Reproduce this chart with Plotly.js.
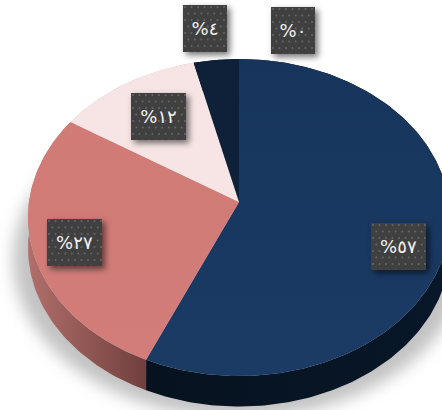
<!DOCTYPE html>
<html>
<head>
<meta charset="utf-8">
<script src="https://cdn.plot.ly/plotly-3.0.1.min.js"></script>
<style>html,body{margin:0;padding:0;background:#fff;overflow:hidden}#chart{width:442px;height:410px}</style>
</head>
<body>
<div id="chart"></div>
<script>
// Data (clockwise from 12 o'clock)
const sliceValues = [56.6, 27.4, 12.2, 3.8, 0];
const sliceLabels = ['%٥٧', '%٢٧', '%١٢', '%٤', '%٠'];

// Styles
const topFills = [['#17355c', '#1b3b65'], ['#d17a76', '#d27d79'], ['#f7e5e5', '#f7e5e5'], ['#0f2139', '#0f2139'], ['#0f2139', '#0f2139']];
const wallFills = [['#06121f', '#081729'], ['#b06e6a', '#6e3e3c'], ['#c9b5b5', '#c9b5b5'], ['#081729', '#081729'], ['#081729', '#081729']];
const labelCentres = [[398.5, 246.5], [74.5, 242], [158.5, 116.5], [205, 28.5], [293, 30.5]];

// Tilted-disc projection
const apex = [239, 202], rad = [210, 157], tilt = 0.0978, depth = 30.5;
function project(frac, sx, dy) {
  const t = frac * 2 * Math.PI, u = Math.sin(t), v = Math.cos(t), d = 1 + tilt * v;
  return [apex[0] + (sx || 1) * rad[0] * u / d, apex[1] - rad[1] * v / d + (dy || 0)];
}
function arc(f0, f1, sx, dy) {
  const n = Math.max(2, Math.ceil((f1 - f0) * 360)), pts = [];
  for (let i = 0; i <= n; i++) pts.push(project(f0 + (f1 - f0) * i / n, sx, dy));
  return pts;
}
function poly(pts, extra) {
  return Object.assign({
    type: 'scatter', mode: 'lines', fill: 'toself', hoverinfo: 'skip', showlegend: false,
    x: pts.map(p => p[0]), y: pts.map(p => p[1]), line: {width: 0}
  }, extra);
}
function grad(type, cols, start, stop) {
  return {type, start, stop, colorscale: [[0, cols[0]], [1, cols[1]]]};
}

const total = sliceValues.reduce((a, b) => a + b, 0);
const walls = [], tops = [];
let acc = 0;
sliceValues.forEach((val, i) => {
  const f0 = acc / total, f1 = (acc + val) / total;
  acc += val;
  if (val === 0) return;
  const edge = arc(f0, f1);
  const lower = arc(f0, f1, 1, depth).reverse();
  walls.push(poly(edge.concat(lower), {fillgradient: grad('horizontal', wallFills[i], i === 1 ? 30 : 150, i === 1 ? 150 : 440)}));
  tops.push(poly([apex].concat(edge), {fillgradient: grad('vertical', topFills[i], 60, 376)}));
});
const shadow = poly(arc(0, 1, 1.07, 42), {fillcolor: '#c2c2c2'});
const traces = [shadow].concat(walls, tops);

const annotations = sliceLabels.map((txt, i) => ({
  x: labelCentres[i][0], y: labelCentres[i][1], xref: 'x', yref: 'y',
  text: txt, showarrow: false, xanchor: 'center', yanchor: 'middle',
  width: txt.length > 2 ? 55 : 44, height: 47, borderpad: 0, borderwidth: 0,
  bgcolor: '#404040', align: 'center', valign: 'middle',
  font: {family: '"DejaVu Sans", sans-serif', size: 18, color: '#f2f2f2'}
}));

const layout = {
  width: 442, height: 410, margin: {l: 0, r: 0, t: 0, b: 0},
  paper_bgcolor: '#ffffff', plot_bgcolor: '#ffffff', showlegend: false,
  xaxis: {range: [0, 442], visible: false, fixedrange: true},
  yaxis: {range: [410, 0], visible: false, fixedrange: true},
  annotations
};

Plotly.newPlot('chart', traces, layout, {staticPlot: true, displayModeBar: false}).then(gd => {
  const NS = 'http://www.w3.org/2000/svg';
  const defs = gd.querySelector('.main-svg defs');
  const pat = document.createElementNS(NS, 'pattern');
  pat.setAttribute('id', 'lblDots');
  pat.setAttribute('patternUnits', 'userSpaceOnUse');
  pat.setAttribute('width', '13');
  pat.setAttribute('height', '13');
  pat.innerHTML = '<rect width="13" height="13" fill="#404040"/>' +
    [[2, 2], [8.5, 2], [5.25, 8.5], [11.75, 8.5]].map(c => '<circle cx="' + c[0] + '" cy="' + c[1] + '" r="1" fill="#666666"/>').join('');
  defs.appendChild(pat);
  gd.querySelectorAll('.annotation rect.bg').forEach(r => {
    r.style.fill = 'url(#lblDots)';
    r.style.filter = 'drop-shadow(3px 3px 3px rgba(0,0,0,0.55))';
  });
  const first = gd.querySelector('.scatterlayer .trace');
  if (first) first.style.filter = 'blur(8px)';
});
</script>
</body>
</html>
